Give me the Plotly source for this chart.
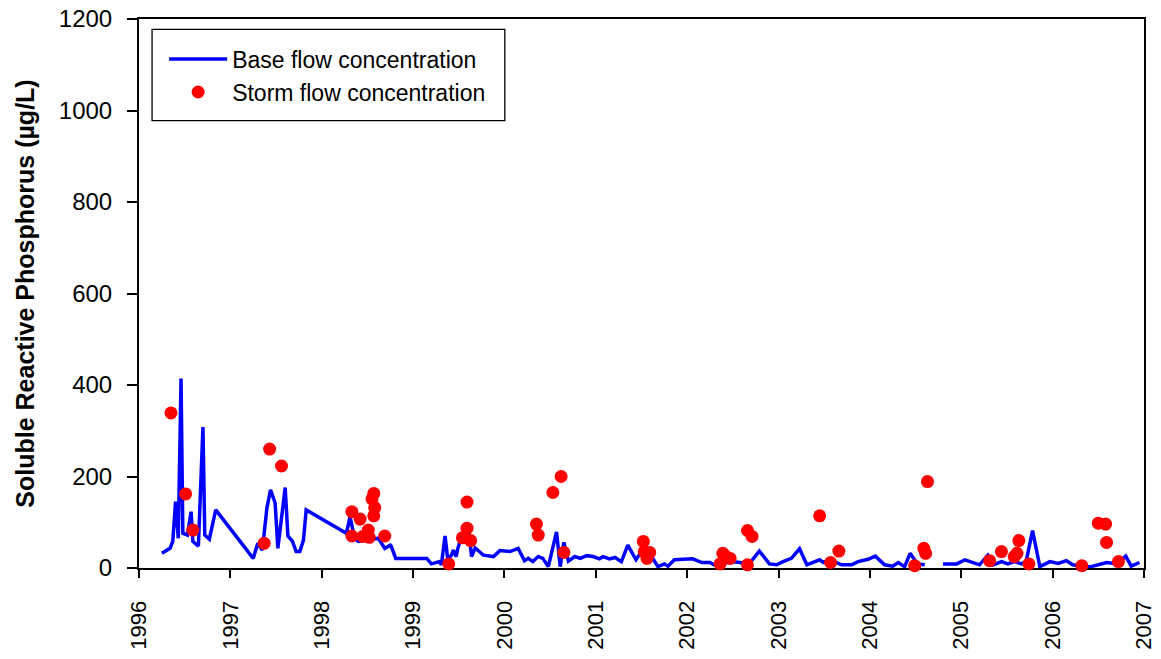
import plotly.graph_objects as go

# Base flow soluble reactive phosphorus (decimal year, µg/L); None marks a sampling gap
base_year = [
    1996.25, 1996.34, 1996.37, 1996.40, 1996.43, 1996.46, 1996.48, 1996.53, 1996.57, 1996.59,
    1996.65, 1996.70, 1996.72, 1996.77, 1996.84, 1997.25, 1997.30, 1997.35, 1997.40, 1997.44,
    1997.49, 1997.52, 1997.60, 1997.63, 1997.68, 1997.72, 1997.76, 1997.80, 1997.83, 1998.27,
    1998.31, 1998.36, 1998.40, 1998.62, 1998.69, 1998.75, 1998.76, 1998.81, 1999.15, 1999.20,
    1999.29, 1999.31, 1999.35, 1999.38, 1999.42, 1999.44, 1999.47, 1999.49, 1999.53, 1999.60,
    1999.64, 1999.68, 1999.77, 1999.88, 1999.95, 2000.06, 2000.15, 2000.22, 2000.26, 2000.31,
    2000.37, 2000.42, 2000.48, 2000.57, 2000.61, 2000.65, 2000.70, 2000.77, 2000.83, 2000.90,
    2000.97, 2001.04, 2001.08, 2001.15, 2001.21, 2001.28, 2001.35, 2001.44, 2001.50, 2001.61,
    2001.68, 2001.75, 2001.79, 2001.86, 2002.06, 2002.16, 2002.25, 2002.32, 2002.47, 2002.58,
    2002.67, 2002.79, 2002.90, 2002.98, 2003.05, 2003.14, 2003.23, 2003.31, 2003.45, 2003.49,
    2003.56, 2003.69, 2003.80, 2003.87, 2003.98, 2004.06, 2004.16, 2004.25, 2004.31, 2004.38,
    2004.44, 2004.52, 2004.60, 2004.70, 2004.80, 2004.95, 2005.04, 2005.20, 2005.29, 2005.35,
    2005.44, 2005.51, 2005.58, 2005.66, 2005.71, 2005.78, 2005.86, 2005.97, 2006.06, 2006.15,
    2006.22, 2006.31, 2006.42, 2006.59, 2006.71, 2006.80, 2006.86, 2006.95,
]
base_srp = [
    32, 43, 58, 145, 65, 414, 76, 72, 123, 58,
    48, 308, 72, 63, 127, 21, 54, 39, 131, 171,
    142, 43, 176, 70, 58, 36, 36, 61, 127, 76,
    112, 65, 58, 65, 43, 50, 48, 21, 21, 9,
    14, 7, 70, 18, 28, 39, 25, 43, 69, 98,
    25, 44, 28, 25, 38, 36, 43, 16, 21, 14,
    25, 21, 3, 79, 3, 56, 15, 25, 21, 27,
    25, 20, 25, 20, 23, 14, 50, 18, 36, 25,
    3, 9, 4, 18, 20, 12, 12, 4, 14, 12,
    7, 37, 9, 7, 14, 21, 42, 7, 18, 12,
    18, 7, 7, 14, 19, 26, 7, 4, 12, 3,
    32, 9, 7, None, 9, 9, 18, 7, 28, 7,
    14, 9, 14, 9, 14, 82, 3, 14, 10, 16,
    7, 4, 3, 12, 9, 26, 4, 12,
]

# Storm flow samples (decimal year, µg/L)
storm_year = [
    1996.35, 1996.51, 1996.59, 1997.37, 1997.43, 1997.56,
    1998.33, 1998.33, 1998.42, 1998.45, 1998.51, 1998.52, 1998.57, 1998.55, 1998.58, 1998.57, 1998.69,
    1999.39, 1999.59, 1999.59, 1999.54, 1999.63,
    2000.35, 2000.37, 2000.53, 2000.62, 2000.65,
    2001.52, 2001.53, 2001.59, 2001.56,
    2002.36, 2002.39, 2002.42, 2002.47, 2002.66, 2002.66, 2002.71,
    2003.45, 2003.57, 2003.66,
    2004.49, 2004.59, 2004.61, 2004.63,
    2005.31, 2005.44, 2005.58, 2005.61, 2005.63, 2005.74,
    2006.32, 2006.50, 2006.58, 2006.59, 2006.72,
]
storm_srp = [
    339, 162, 83, 54, 260, 223,
    123, 70, 107, 69, 83, 67, 163, 151, 132, 114, 70,
    9, 144, 87, 66, 60,
    96, 72, 165, 200, 34,
    58, 36, 34, 21,
    9, 32, 26, 21, 7, 82, 69,
    114, 12, 37,
    5, 43, 32, 189,
    16, 36, 25, 32, 60, 9,
    5, 98, 96, 56, 14,
]

year_ticks = list(range(1996, 2008))
srp_ticks = list(range(0, 1201, 200))

FONT = "Arial, Liberation Sans, sans-serif"

fig = go.Figure()
fig.add_trace(go.Scatter(
    x=base_year, y=base_srp, mode="lines", name="Base flow concentration",
    line=dict(color="#0000FF", width=3.5), connectgaps=False, cliponaxis=False,
))
fig.add_trace(go.Scatter(
    x=storm_year, y=storm_srp, mode="markers", name="Storm flow concentration",
    marker=dict(color="#FF0000", size=13, line=dict(width=0)), cliponaxis=False,
))

# legend frame
fig.add_shape(type="rect", xref="paper", yref="paper",
              x0=0.013, x1=0.364, y0=0.815, y1=0.981,
              line=dict(color="black", width=1.3), fillcolor="rgba(0,0,0,0)")

fig.update_layout(
    width=1161, height=659,
    margin=dict(l=139, r=17, t=19, b=91),
    paper_bgcolor="white", plot_bgcolor="white",
    font=dict(family=FONT, size=22, color="black"),
    showlegend=True,
    legend=dict(x=0.025, y=0.966, xanchor="left", yanchor="top",
                bgcolor="rgba(0,0,0,0)", borderwidth=0,
                font=dict(family=FONT, size=23, color="black"),
                itemwidth=58, tracegroupgap=0),
    xaxis=dict(
        range=[1996, 2007], tickvals=year_ticks, ticktext=[str(y) for y in year_ticks],
        tickangle=-90, ticks="outside", ticklen=8, tickwidth=2, tickcolor="black",
        tickfont=dict(family=FONT, size=22),
        showline=True, linecolor="black", linewidth=2, mirror=True,
        showgrid=False, zeroline=False, layer="below traces",
        ticklabelstandoff=14, automargin=False,
    ),
    yaxis=dict(
        range=[0, 1200], tickvals=srp_ticks,
        ticks="outside", ticklen=10, tickwidth=2, tickcolor="black",
        tickfont=dict(family=FONT, size=24),
        showline=True, linecolor="black", linewidth=2, mirror=True,
        showgrid=False, zeroline=False, layer="below traces",
        ticklabelstandoff=10, automargin=False,
        title=dict(text="<b>Soluble Reactive Phosphorus (µg/L)</b>",
                   font=dict(family=FONT, size=25), standoff=17),
    ),
)

fig.write_html("out.html")
